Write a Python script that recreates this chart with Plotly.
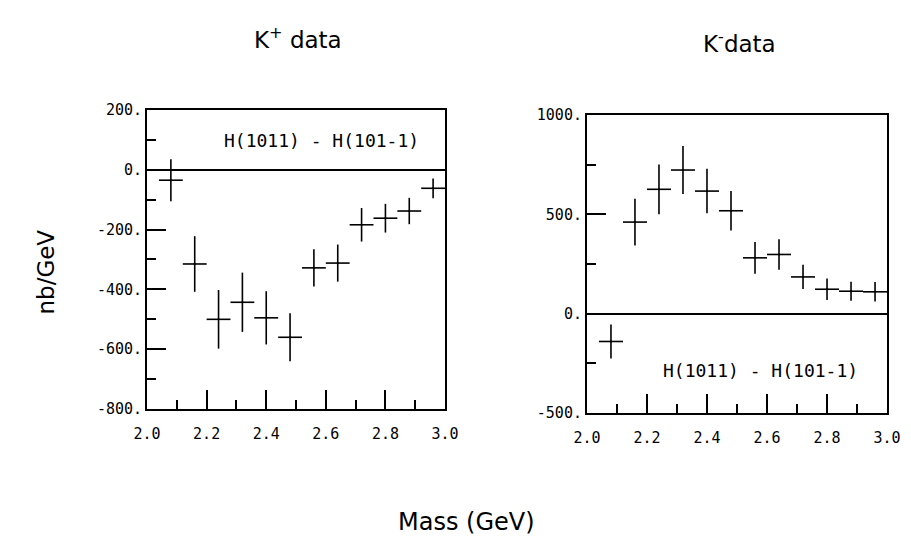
import plotly.graph_objects as go
from plotly.subplots import make_subplots

# ---------------------------------- #
#                DATA                #
# ---------------------------------- #

# bin centres (GeV), bins are 0.08 wide
mass = [2.08, 2.16, 2.24, 2.32, 2.40, 2.48, 2.56, 2.64, 2.72, 2.80, 2.88, 2.96]
bin_half = [0.04] * 12

# K+ data: H(1011) - H(101-1)
kplus = [-35, -315, -500, -443, -495, -560, -328, -312, -184, -162, -138, -62]
kplus_err = [70, 93, 98, 99, 89, 80, 62, 62, 56, 48, 44, 33]

# K- data: H(1011) - H(101-1)
kminus = [-140, 461, 626, 723, 617, 518, 281, 298, 185, 123, 113, 110]
kminus_err = [86, 118, 125, 121, 112, 99, 80, 77, 61, 54, 48, 49]

x_ticks = [2.0, 2.2, 2.4, 2.6, 2.8, 3.0]
x_labels = ['2.0', '2.2', '2.4', '2.6', '2.8', '3.0']
left_yticks = [200, 0, -200, -400, -600, -800]
left_ylabels = ['200.', '0.', '-200.', '-400.', '-600.', '-800.']
right_yticks = [1000, 500, 0, -500]
right_ylabels = ['1000.', '500.', '0.', '-500.']


# ---------------------------------- #
#         CONSTANT PARAMETERS        #
# ---------------------------------- #

TICK_FONT = dict(family='DejaVu Sans Mono', size=15, color='black')
LABEL_FONT = dict(family='DejaVu Sans', size=23, color='black')
ANN_FONT = dict(family='DejaVu Sans Mono', size=18, color='black')
INK = 'black'


fig = make_subplots(rows=1, cols=2)

for col, (vals, errs) in enumerate([(kplus, kplus_err), (kminus, kminus_err)], start=1):
    fig.add_trace(
        go.Scatter(x=mass, y=vals,
                   mode='markers',
                   marker=dict(color=INK, size=2),
                   error_y=dict(type='data', array=errs, width=0,
                                thickness=1.6, color=INK),
                   error_x=dict(type='data', array=bin_half, width=0,
                                thickness=1.6, color=INK),
                   showlegend=False,
                   hoverinfo='x+y'),
        row=1, col=col)

axis_common = dict(showline=True, linewidth=2, linecolor=INK, mirror=True,
                   showgrid=False, ticks='inside', ticklen=19, tickwidth=1.6,
                   tickcolor=INK, tickfont=TICK_FONT, automargin=False)

fig.update_xaxes(range=[2.0, 3.0], tickvals=x_ticks, ticktext=x_labels,
                 zeroline=False, ticklabelstandoff=10,
                 minor=dict(ticks='inside', ticklen=9, tickwidth=1.6,
                            tickcolor=INK, dtick=0.1, showgrid=False),
                 **axis_common)
fig.update_yaxes(zeroline=True, zerolinecolor=INK, zerolinewidth=1.8,
                 **axis_common)

fig.update_xaxes(domain=[0.1614, 0.4885], row=1, col=1)
fig.update_xaxes(domain=[0.6443, 0.9737], row=1, col=2)
fig.update_yaxes(domain=[0.248, 0.798], range=[-800, 200],
                 tickvals=left_yticks, ticktext=left_ylabels,
                 minor=dict(ticks='inside', ticklen=9, tickwidth=1.6,
                            tickcolor=INK, dtick=100, showgrid=False),
                 row=1, col=1)
fig.update_yaxes(domain=[0.2408, 0.7886], range=[-500, 1000],
                 tickvals=right_yticks, ticktext=right_ylabels,
                 minor=dict(ticks='inside', ticklen=9, tickwidth=1.6,
                            tickcolor=INK, dtick=250, showgrid=False),
                 row=1, col=2)

# in-plot labels
fig.add_annotation(xref='x', yref='y', x=2.585, y=99, showarrow=False,
                   text='H(1011) - H(101-1)', font=ANN_FONT)
fig.add_annotation(xref='x2', yref='y2', x=2.578, y=-285, showarrow=False,
                   text='H(1011) - H(101-1)', font=ANN_FONT)

# panel titles and shared axis titles (centre anchored)
fig.add_annotation(xref='paper', yref='paper', x=0.327, y=0.930,
                   xanchor='center', yanchor='middle', showarrow=False,
                   text='K<sup>+</sup> data', font=LABEL_FONT)
fig.add_annotation(xref='paper', yref='paper', x=0.812, y=0.922,
                   xanchor='center', yanchor='middle', showarrow=False,
                   text='K<sup>-</sup>data', font=LABEL_FONT)
fig.add_annotation(xref='paper', yref='paper', x=0.050, y=0.50,
                   xanchor='center', yanchor='middle', showarrow=False,
                   textangle=-90, text='nb/GeV', font=LABEL_FONT)
fig.add_annotation(xref='paper', yref='paper', x=0.512, y=0.040,
                   xanchor='center', yanchor='middle', showarrow=False,
                   text='Mass (GeV)', font=dict(LABEL_FONT, size=24))

fig.update_layout(
    width=911, height=544,
    plot_bgcolor='white', paper_bgcolor='white',
    margin=dict(l=0, r=0, t=0, b=0),
)

# page has a default body margin; drop it so the figure sits at the origin
fig.write_html("out.html", config={'displayModeBar': False},
               post_script="document.body.style.margin='0';")
